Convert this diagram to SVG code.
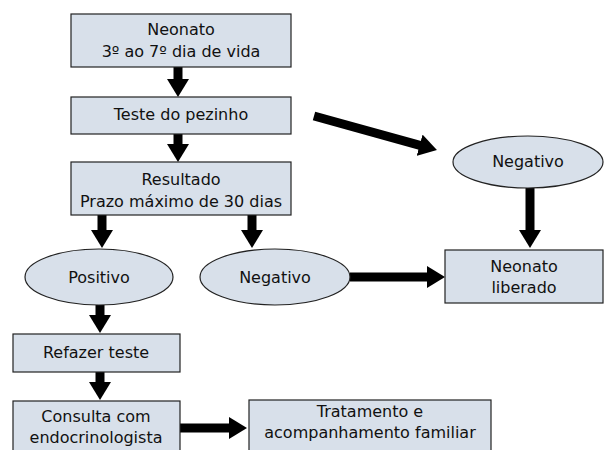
<svg xmlns="http://www.w3.org/2000/svg" width="610" height="450" viewBox="0 0 610 450">
<defs>
<style>
.box{fill:#d8e0ea;stroke:#222;stroke-width:1.2}
.t{font-family:"DejaVu Sans",sans-serif;font-size:16px;fill:#111;text-anchor:middle}
.c{stroke:#000;stroke-width:9;fill:none}
</style>
<marker id="ah" markerUnits="userSpaceOnUse" markerWidth="18" markerHeight="22" viewBox="0 0 18 22" refX="6" refY="11" orient="auto">
<path d="M0,0 L18,11 L0,22 z" fill="#000"/>
</marker>
</defs>
<rect width="610" height="450" fill="#fff"/>
<g id="connectors">
<line class="c" x1="178" y1="67" x2="178" y2="85" marker-end="url(#ah)"/>
<line class="c" x1="178" y1="134" x2="178" y2="150" marker-end="url(#ah)"/>
<line class="c" x1="102" y1="215" x2="102" y2="236" marker-end="url(#ah)"/>
<line class="c" x1="252" y1="215" x2="252" y2="236" marker-end="url(#ah)"/>
<line class="c" x1="100" y1="305" x2="100" y2="321" marker-end="url(#ah)"/>
<line class="c" x1="100" y1="372" x2="100" y2="388" marker-end="url(#ah)"/>
<line class="c" x1="180" y1="428" x2="235" y2="428" marker-end="url(#ah)"/>
<line class="c" x1="350" y1="277" x2="433" y2="277" marker-end="url(#ah)"/>
<line class="c" x1="530" y1="188" x2="530" y2="236" marker-end="url(#ah)"/>
<line class="c" x1="314" y1="116" x2="425.4" y2="146.8" marker-end="url(#ah)"/>
</g>
<g id="n1"><rect class="box" x="71" y="14" width="220" height="53"/><text class="t" x="181" y="35">Neonato</text><text class="t" x="181" y="57">3º ao 7º dia de vida</text></g>
<g id="n2"><rect class="box" x="71" y="97" width="220" height="37"/><text class="t" x="181" y="120">Teste do pezinho</text></g>
<g id="n3"><rect class="box" x="71" y="162" width="220" height="53"/><text class="t" x="181" y="185">Resultado</text><text class="t" x="181" y="207">Prazo máximo de 30 dias</text></g>
<g id="n4"><ellipse class="box" cx="99" cy="277" rx="74" ry="28"/><text class="t" x="99" y="283">Positivo</text></g>
<g id="n5"><ellipse class="box" cx="275" cy="277" rx="75" ry="28"/><text class="t" x="275" y="283">Negativo</text></g>
<g id="n6"><ellipse class="box" cx="528" cy="162" rx="75" ry="26"/><text class="t" x="528" y="167">Negativo</text></g>
<g id="n7"><rect class="box" x="445" y="250" width="158" height="53"/><text class="t" x="524" y="272">Neonato</text><text class="t" x="524" y="293">liberado</text></g>
<g id="n8"><rect class="box" x="13" y="334" width="167" height="38"/><text class="t" x="96" y="358">Refazer teste</text></g>
<g id="n9"><rect class="box" x="13" y="401" width="167" height="60"/><text class="t" x="96" y="422">Consulta com</text><text class="t" x="96" y="443">endocrinologista</text></g>
<g id="n10"><rect class="box" x="249" y="400" width="242" height="60"/><text class="t" x="370" y="417">Tratamento e</text><text class="t" x="370" y="438">acompanhamento familiar</text></g>
</svg>
